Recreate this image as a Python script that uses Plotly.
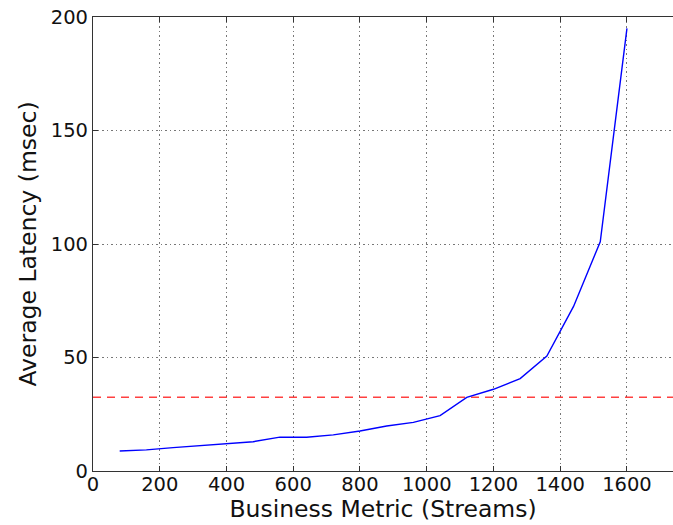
import plotly.graph_objects as go

streams = [80, 160, 240, 320, 400, 480, 560, 640, 720, 800, 880, 960, 1040, 1120, 1200, 1280, 1360, 1440, 1520, 1600]
latency = [8.8, 9.3, 10.3, 11.1, 12.0, 12.9, 14.9, 14.9, 15.9, 17.6, 19.8, 21.4, 24.4, 32.4, 36.0, 40.7, 50.6, 72.5, 101.0, 195.0]
threshold = 32.5
x_range = [0, 1738]
y_range = [0, 200]
x_ticks = [0, 200, 400, 600, 800, 1000, 1200, 1400, 1600]
y_ticks = [0, 50, 100, 150, 200]

fig = go.Figure()
fig.add_trace(go.Scatter(x=x_range, y=[threshold, threshold], mode="lines",
                         line=dict(color="rgba(255,0,0,0.75)", width=1.5, dash="8px,6px"),
                         showlegend=False, hoverinfo="skip"))
fig.add_trace(go.Scatter(x=streams, y=latency, mode="lines",
                         line=dict(color="#0000ff", width=1.4), showlegend=False))

axis_common = dict(showline=True, linecolor="#333333", linewidth=1.2,
                   ticks="inside", ticklen=5, tickcolor="#333333",
                   showgrid=True, gridcolor="#777777", griddash="1.5px,3px", gridwidth=1,
                   zeroline=False, tickfont=dict(family="DejaVu Sans", size=19.5, color="#111111"))

fig.update_xaxes(range=x_range, tickvals=x_ticks, ticktext=[str(v) for v in x_ticks], mirror="ticks",
                 ticklabelstandoff=-5,
                 title=dict(text="Business Metric (Streams)", font=dict(family="DejaVu Sans", size=23.5, color="#111111"), standoff=0),
                 **axis_common)
fig.update_yaxes(range=y_range, tickvals=y_ticks, ticktext=[str(v) for v in y_ticks], mirror=False,
                 title=dict(text="Average Latency (msec)", font=dict(family="DejaVu Sans", size=23.5, color="#111111"), standoff=7),
                 **axis_common)

fig.update_layout(width=673, height=525, margin=dict(l=93, r=0, t=17, b=54),
                  plot_bgcolor="white", paper_bgcolor="white")

fig.write_html("out.html")
